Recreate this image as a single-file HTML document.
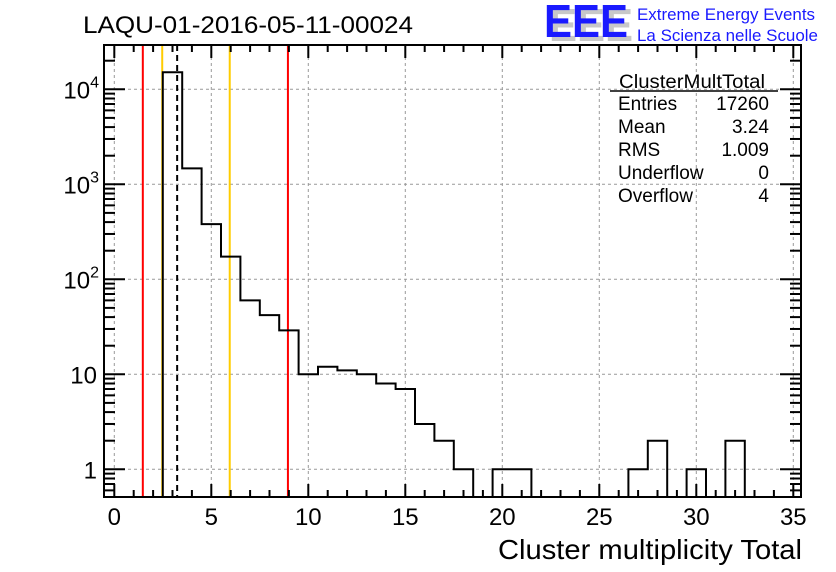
<!DOCTYPE html>
<html><head><meta charset="utf-8"><style>
body{margin:0;background:#fff;}
svg{display:block;font-family:"Liberation Sans",sans-serif;}
</style></head><body>
<svg id="c" width="836" height="572" viewBox="0 0 836 572">
<rect width="836" height="572" fill="#fff"/>
<text x="83" y="33" font-size="24" textLength="330" lengthAdjust="spacingAndGlyphs">LAQU-01-2016-05-11-00024</text>
<g>
<text x="549" y="41" font-size="46" font-weight="bold" fill="#c8c8c8" textLength="84" lengthAdjust="spacingAndGlyphs">EEE</text>
<text x="544" y="37" font-size="46" font-weight="bold" fill="#1a1aff" textLength="84" lengthAdjust="spacingAndGlyphs">EEE</text>
<text x="637" y="20" font-size="16.5" fill="#1a1aff" textLength="178" lengthAdjust="spacingAndGlyphs">Extreme Energy Events</text>
<text x="637" y="41" font-size="16.5" fill="#1a1aff" textLength="181" lengthAdjust="spacingAndGlyphs">La Scienza nelle Scuole</text>
</g>
<g id="grid"></g>
<g id="lines"></g>
<path id="hist" fill="none" stroke="#000" stroke-width="2"/>
<g id="axes"></g>
<g font-size="19">
<text x="692" y="88" text-anchor="middle" textLength="146" lengthAdjust="spacingAndGlyphs">ClusterMultTotal</text>
<line x1="610" y1="91" x2="778" y2="91" stroke="#000" stroke-width="1.5"/>
<text x="618" y="110">Entries</text><text x="769" y="110" text-anchor="end">17260</text>
<text x="618" y="133">Mean</text><text x="769" y="133" text-anchor="end">3.24</text>
<text x="618" y="156">RMS</text><text x="769" y="156" text-anchor="end">1.009</text>
<text x="618" y="179">Underflow</text><text x="769" y="179" text-anchor="end">0</text>
<text x="618" y="202">Overflow</text><text x="769" y="202" text-anchor="end">4</text>
</g>
<text x="802" y="559" font-size="28" text-anchor="end" textLength="304" lengthAdjust="spacingAndGlyphs">Cluster multiplicity Total</text>
</svg>
<script>
const binCenters=[3,4,5,6,7,8,9,10,11,12,13,14,15,16,17,18,19,20,21,22,23,24,25,26,27,28,29,30,31,32,33,34];
const counts=[15100,1470,381,173,60,42,29,10,12,11,10,8,7,3,2,1,0,1,1,0,0,0,0,0,1,2,0,1,0,2,0,0];
const xTicks=[0,5,10,15,20,25,30,35];
const yTicks=[1,10,100,1000,10000];
const yTickLabels=["1","10","10^2","10^3","10^4"];
const markerPos=[1.47,2.47,5.95,8.95];
const markerColors=["#ff0000","#ffcc00","#ffcc00","#ff0000"];
const meanVal=3.24;

const L=104,R=801,T=45,B=497;
const X=v=>114.3+(v-0)*(793.3-114.3)/35;
const Y=v=>{if(v<=0)return B;return 469.3-(Math.log10(v))*95.0;};
const ns="http://www.w3.org/2000/svg";
function mk(tag,attrs,parent){const e=document.createElementNS(ns,tag);for(const k in attrs)e.setAttribute(k,attrs[k]);parent.appendChild(e);return e;}
const grid=document.getElementById('grid'),axes=document.getElementById('axes'),lines=document.getElementById('lines');
xTicks.forEach(t=>{const e=mk('line',{x1:X(t),x2:X(t),y1:T,y2:B,stroke:'#999','stroke-dasharray':'3,3','stroke-width':1},grid);

});
yTicks.forEach(t=>{const e=mk('line',{x1:L,x2:R,y1:Y(t),y2:Y(t),stroke:'#999','stroke-dasharray':'3,3','stroke-width':1},grid);

});
markerPos.forEach((p,i)=>{const e=mk('line',{x1:X(p),x2:X(p),y1:T,y2:B,stroke:markerColors[i],'stroke-width':2},lines);

});
const ml=mk('line',{x1:X(meanVal),x2:X(meanVal),y1:T,y2:B,stroke:'#000','stroke-width':2,'stroke-dasharray':'6,4'},lines);


let d='';
binCenters.forEach((c,i)=>{const x0=X(c-0.5),x1=X(c+0.5),y=Y(counts[i]);
if(i===0)d+=`M${x0},${B}L${x0},${y}`;else d+=`L${x0},${y}`;d+=`L${x1},${y}`;});
d+=`L${X(binCenters[binCenters.length-1]+0.5)},${B}`;
document.getElementById('hist').setAttribute('d',d);
mk('rect',{x:L,y:T,width:R-L,height:B-T,fill:'none',stroke:'#000','stroke-width':2},axes);
for(let v=0;v<=35;v++){const maj=v%5===0,len=maj?13:7;
mk('line',{x1:X(v),x2:X(v),y1:B,y2:B-len,stroke:'#000','stroke-width':2},axes);
mk('line',{x1:X(v),x2:X(v),y1:T,y2:T+len,stroke:'#000','stroke-width':2},axes);}
xTicks.forEach(t=>{const e=mk('text',{x:X(t),y:525,'font-size':24,'text-anchor':'middle'},axes);e.textContent=t;

});
for(let dec=-1;dec<=4;dec++){for(let m=1;m<10;m++){const v=m*Math.pow(10,dec);const y=Y(v);if(y<T||y>B)continue;const len=m===1?21:11;
mk('line',{x1:L,x2:L+len,y1:y,y2:y,stroke:'#000','stroke-width':2},axes);
mk('line',{x1:R,x2:R-len,y1:y,y2:y,stroke:'#000','stroke-width':2},axes);}}
yTicks.forEach((t,i)=>{const lab=yTickLabels[i];const e=mk('text',{x:97,y:Y(t)+9,'font-size':24,'text-anchor':'end'},axes);


if(lab.indexOf('^')>=0){const [b,p]=lab.split('^');e.textContent=b;const s=mk('tspan',{'font-size':16,dy:-11},e);s.textContent=p;e.setAttribute('x',99);}
else e.textContent=lab;});
</script>
</body></html>
